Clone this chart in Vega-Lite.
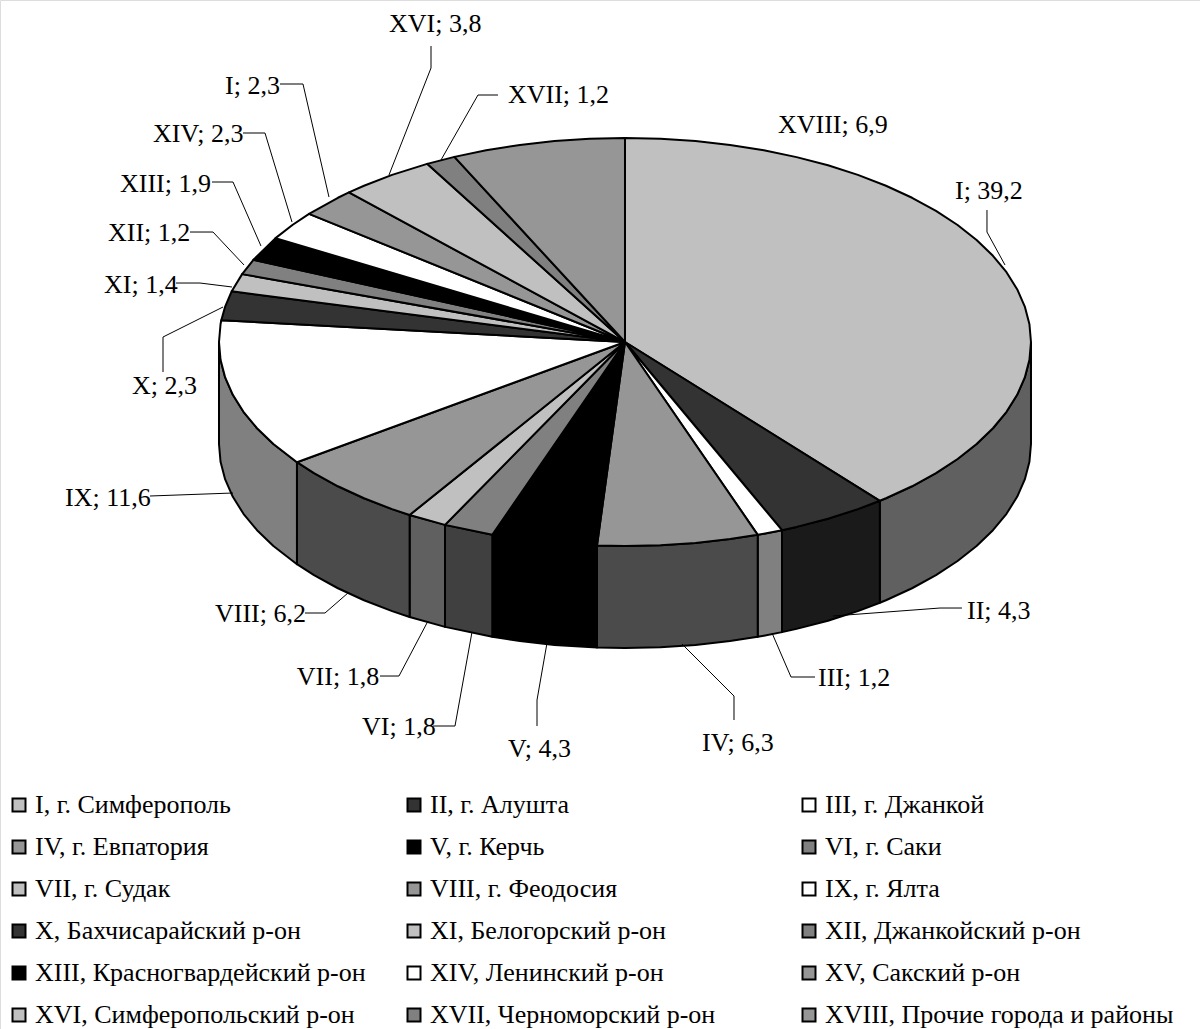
{"$schema":"https://vega.github.io/schema/vega-lite/v6.json","width":1200,"height":1029,"autosize":"none","padding":0,"background":"white","datasets":{"slices":[{"s":"I","name":"I, г. Симферополь","value":39.2},{"s":"II","name":"II, г. Алушта","value":4.3},{"s":"III","name":"III, г. Джанкой","value":1.2},{"s":"IV","name":"IV, г. Евпатория","value":6.3},{"s":"V","name":"V, г. Керчь","value":4.3},{"s":"VI","name":"VI, г. Саки","value":1.8},{"s":"VII","name":"VII, г. Судак","value":1.8},{"s":"VIII","name":"VIII, г. Феодосия","value":6.2},{"s":"IX","name":"IX, г. Ялта","value":11.6},{"s":"X","name":"X, Бахчисарайский р-он","value":2.3},{"s":"XI","name":"XI, Белогорский р-он","value":1.4},{"s":"XII","name":"XII, Джанкойский р-он","value":1.2},{"s":"XIII","name":"XIII, Красногвардейский р-он","value":1.9},{"s":"XIV","name":"XIV, Ленинский р-он","value":2.3},{"s":"XV","name":"XV, Сакский р-он","value":2.3},{"s":"XVI","name":"XVI, Симферопольский р-он","value":3.8},{"s":"XVII","name":"XVII, Черноморский р-он","value":1.2},{"s":"XVIII","name":"XVIII, Прочие города и районы","value":6.9}]},"encoding":{"x":{"field":"x","type":"quantitative","scale":{"domain":[-153.94,141.63],"nice":false,"zero":false},"axis":null},"y":{"field":"y","type":"quantitative","scale":{"domain":[-169.21,84.24],"nice":false,"zero":false},"axis":null}},"layer":[{"data":{"values":[
{"s":"I","x":100,"y":0},{"s":"I","x":99.62,"y":-4.38},{"s":"I","x":98.48,"y":-8.73},{"s":"I","x":96.59,"y":-13.01},{"s":"I","x":93.97,"y":-17.19},{"s":"I","x":90.63,"y":-21.24},{"s":"I","x":86.6,"y":-25.13},{"s":"I","x":81.92,"y":-28.82},{"s":"I","x":76.6,"y":-32.3},{"s":"I","x":70.71,"y":-35.53},{"s":"I","x":64.28,"y":-38.49},{"s":"I","x":62.77,"y":-39.11},{"s":"I","x":62.77,"y":-64.23},{"s":"I","x":64.28,"y":-63.61},{"s":"I","x":70.71,"y":-60.65},{"s":"I","x":76.6,"y":-57.42},{"s":"I","x":81.92,"y":-53.94},{"s":"I","x":86.6,"y":-50.25},{"s":"I","x":90.63,"y":-46.36},{"s":"I","x":93.97,"y":-42.31},{"s":"I","x":96.59,"y":-38.13},{"s":"I","x":98.48,"y":-33.85},{"s":"I","x":99.62,"y":-29.5},{"s":"I","x":100,"y":-25.12},{"s":"I","x":100,"y":0},
{"s":"II","x":62.77,"y":-39.11},{"s":"II","x":57.36,"y":-41.16},{"s":"II","x":50,"y":-43.52},{"s":"II","x":42.26,"y":-45.54},{"s":"II","x":38.67,"y":-46.34},{"s":"II","x":38.67,"y":-71.46},{"s":"II","x":42.26,"y":-70.66},{"s":"II","x":50,"y":-68.64},{"s":"II","x":57.36,"y":-66.28},{"s":"II","x":62.77,"y":-64.23},{"s":"II","x":62.77,"y":-39.11},
{"s":"III","x":38.67,"y":-46.34},{"s":"III","x":34.2,"y":-47.22},{"s":"III","x":32.69,"y":-47.49},{"s":"III","x":32.69,"y":-72.61},{"s":"III","x":34.2,"y":-72.34},{"s":"III","x":38.67,"y":-71.46},{"s":"III","x":38.67,"y":-46.34},
{"s":"IV","x":32.69,"y":-47.49},{"s":"IV","x":25.88,"y":-48.54},{"s":"IV","x":17.36,"y":-49.49},{"s":"IV","x":8.72,"y":-50.06},{"s":"IV","x":0,"y":-50.25},{"s":"IV","x":-6.9,"y":-50.13},{"s":"IV","x":-6.9,"y":-75.25},{"s":"IV","x":0,"y":-75.37},{"s":"IV","x":8.72,"y":-75.18},{"s":"IV","x":17.36,"y":-74.61},{"s":"IV","x":25.88,"y":-73.66},{"s":"IV","x":32.69,"y":-72.61},{"s":"IV","x":32.69,"y":-47.49},
{"s":"V","x":-6.9,"y":-50.13},{"s":"V","x":-17.36,"y":-49.49},{"s":"V","x":-25.88,"y":-48.54},{"s":"V","x":-32.69,"y":-47.49},{"s":"V","x":-32.69,"y":-72.61},{"s":"V","x":-25.88,"y":-73.66},{"s":"V","x":-17.36,"y":-74.61},{"s":"V","x":-6.9,"y":-75.25},{"s":"V","x":-6.9,"y":-50.13},
{"s":"VI","x":-32.69,"y":-47.49},{"s":"VI","x":-44.33,"y":-45.04},{"s":"VI","x":-44.33,"y":-70.16},{"s":"VI","x":-32.69,"y":-72.61},{"s":"VI","x":-32.69,"y":-47.49},
{"s":"VII","x":-44.33,"y":-45.04},{"s":"VII","x":-53.05,"y":-42.6},{"s":"VII","x":-53.05,"y":-67.72},{"s":"VII","x":-44.33,"y":-70.16},{"s":"VII","x":-44.33,"y":-45.04},
{"s":"VIII","x":-53.05,"y":-42.6},{"s":"VIII","x":-57.36,"y":-41.16},{"s":"VIII","x":-64.28,"y":-38.49},{"s":"VIII","x":-70.71,"y":-35.53},{"s":"VIII","x":-76.6,"y":-32.3},{"s":"VIII","x":-80.8,"y":-29.6},{"s":"VIII","x":-80.8,"y":-54.72},{"s":"VIII","x":-76.6,"y":-57.42},{"s":"VIII","x":-70.71,"y":-60.65},{"s":"VIII","x":-64.28,"y":-63.61},{"s":"VIII","x":-57.36,"y":-66.28},{"s":"VIII","x":-53.05,"y":-67.72},{"s":"VIII","x":-53.05,"y":-42.6},
{"s":"IX","x":-80.8,"y":-29.6},{"s":"IX","x":-86.6,"y":-25.13},{"s":"IX","x":-90.63,"y":-21.24},{"s":"IX","x":-93.97,"y":-17.19},{"s":"IX","x":-96.59,"y":-13.01},{"s":"IX","x":-98.48,"y":-8.73},{"s":"IX","x":-99.62,"y":-4.38},{"s":"IX","x":-100,"y":0},{"s":"IX","x":-100,"y":-25.12},{"s":"IX","x":-99.62,"y":-29.5},{"s":"IX","x":-98.48,"y":-33.85},{"s":"IX","x":-96.59,"y":-38.13},{"s":"IX","x":-93.97,"y":-42.31},{"s":"IX","x":-90.63,"y":-46.36},{"s":"IX","x":-86.6,"y":-50.25},{"s":"IX","x":-80.8,"y":-54.72},{"s":"IX","x":-80.8,"y":-29.6}
]},"mark":{"type":"line","stroke":"black","strokeWidth":2,"strokeJoin":"round"},"encoding":{"order":{"value":null},"fill":{"field":"s","type":"nominal","legend":null,"scale":{"domain":["I","II","III","IV","V","VI","VII","VIII","IX"],"range":["#606060","#1a1a1a","#808080","#4b4b4b","#000000","#404040","#606060","#4b4b4b","#808080"]}}}},
{"data":{"values":[
{"s":"I","x":0,"y":0},{"s":"I","x":0,"y":50.25},{"s":"I","x":8.72,"y":50.06},{"s":"I","x":17.36,"y":49.49},{"s":"I","x":25.88,"y":48.54},{"s":"I","x":34.2,"y":47.22},{"s":"I","x":42.26,"y":45.54},{"s":"I","x":50,"y":43.52},{"s":"I","x":57.36,"y":41.16},{"s":"I","x":64.28,"y":38.49},{"s":"I","x":70.71,"y":35.53},{"s":"I","x":76.6,"y":32.3},{"s":"I","x":81.92,"y":28.82},{"s":"I","x":86.6,"y":25.13},{"s":"I","x":90.63,"y":21.24},{"s":"I","x":93.97,"y":17.19},{"s":"I","x":96.59,"y":13.01},{"s":"I","x":98.48,"y":8.73},{"s":"I","x":99.62,"y":4.38},{"s":"I","x":100,"y":0},{"s":"I","x":99.62,"y":-4.38},{"s":"I","x":98.48,"y":-8.73},{"s":"I","x":96.59,"y":-13.01},{"s":"I","x":93.97,"y":-17.19},{"s":"I","x":90.63,"y":-21.24},{"s":"I","x":86.6,"y":-25.13},{"s":"I","x":81.92,"y":-28.82},{"s":"I","x":76.6,"y":-32.3},{"s":"I","x":70.71,"y":-35.53},{"s":"I","x":64.28,"y":-38.49},{"s":"I","x":62.77,"y":-39.11},{"s":"I","x":0,"y":0},
{"s":"II","x":0,"y":0},{"s":"II","x":62.77,"y":-39.11},{"s":"II","x":57.36,"y":-41.16},{"s":"II","x":50,"y":-43.52},{"s":"II","x":42.26,"y":-45.54},{"s":"II","x":38.67,"y":-46.34},{"s":"II","x":0,"y":0},
{"s":"III","x":0,"y":0},{"s":"III","x":38.67,"y":-46.34},{"s":"III","x":34.2,"y":-47.22},{"s":"III","x":32.69,"y":-47.49},{"s":"III","x":0,"y":0},
{"s":"IV","x":0,"y":0},{"s":"IV","x":32.69,"y":-47.49},{"s":"IV","x":25.88,"y":-48.54},{"s":"IV","x":17.36,"y":-49.49},{"s":"IV","x":8.72,"y":-50.06},{"s":"IV","x":0,"y":-50.25},{"s":"IV","x":-6.9,"y":-50.13},{"s":"IV","x":0,"y":0},
{"s":"V","x":0,"y":0},{"s":"V","x":-6.9,"y":-50.13},{"s":"V","x":-17.36,"y":-49.49},{"s":"V","x":-25.88,"y":-48.54},{"s":"V","x":-32.69,"y":-47.49},{"s":"V","x":0,"y":0},
{"s":"VI","x":0,"y":0},{"s":"VI","x":-32.69,"y":-47.49},{"s":"VI","x":-44.33,"y":-45.04},{"s":"VI","x":0,"y":0},
{"s":"VII","x":0,"y":0},{"s":"VII","x":-44.33,"y":-45.04},{"s":"VII","x":-53.05,"y":-42.6},{"s":"VII","x":0,"y":0},
{"s":"VIII","x":0,"y":0},{"s":"VIII","x":-53.05,"y":-42.6},{"s":"VIII","x":-57.36,"y":-41.16},{"s":"VIII","x":-64.28,"y":-38.49},{"s":"VIII","x":-70.71,"y":-35.53},{"s":"VIII","x":-76.6,"y":-32.3},{"s":"VIII","x":-80.8,"y":-29.6},{"s":"VIII","x":0,"y":0},
{"s":"IX","x":0,"y":0},{"s":"IX","x":-80.8,"y":-29.6},{"s":"IX","x":-86.6,"y":-25.13},{"s":"IX","x":-90.63,"y":-21.24},{"s":"IX","x":-93.97,"y":-17.19},{"s":"IX","x":-96.59,"y":-13.01},{"s":"IX","x":-98.48,"y":-8.73},{"s":"IX","x":-99.62,"y":-4.38},{"s":"IX","x":-100,"y":0},{"s":"IX","x":-99.62,"y":4.38},{"s":"IX","x":-99.43,"y":5.36},{"s":"IX","x":0,"y":0},
{"s":"X","x":0,"y":0},{"s":"X","x":-99.43,"y":5.36},{"s":"X","x":-98.48,"y":8.73},{"s":"X","x":-96.86,"y":12.5},{"s":"X","x":0,"y":0},
{"s":"XI","x":0,"y":0},{"s":"XI","x":-96.86,"y":12.5},{"s":"XI","x":-94.3,"y":16.72},{"s":"XI","x":0,"y":0},
{"s":"XII","x":0,"y":0},{"s":"XII","x":-94.3,"y":16.72},{"s":"XII","x":-91.52,"y":20.25},{"s":"XII","x":0,"y":0},
{"s":"XIII","x":0,"y":0},{"s":"XIII","x":-91.52,"y":20.25},{"s":"XIII","x":-86.07,"y":25.58},{"s":"XIII","x":0,"y":0},
{"s":"XIV","x":0,"y":0},{"s":"XIV","x":-86.07,"y":25.58},{"s":"XIV","x":-81.92,"y":28.82},{"s":"XIV","x":-77.82,"y":31.56},{"s":"XIV","x":0,"y":0},
{"s":"XV","x":0,"y":0},{"s":"XV","x":-77.82,"y":31.56},{"s":"XV","x":-70.71,"y":35.53},{"s":"XV","x":-67.99,"y":36.85},{"s":"XV","x":0,"y":0},
{"s":"XVI","x":0,"y":0},{"s":"XVI","x":-67.99,"y":36.85},{"s":"XVI","x":-64.28,"y":38.49},{"s":"XVI","x":-57.36,"y":41.16},{"s":"XVI","x":-48.73,"y":43.88},{"s":"XVI","x":0,"y":0},
{"s":"XVII","x":0,"y":0},{"s":"XVII","x":-48.73,"y":43.88},{"s":"XVII","x":-42.01,"y":45.6},{"s":"XVII","x":0,"y":0},
{"s":"XVIII","x":0,"y":0},{"s":"XVIII","x":-42.01,"y":45.6},{"s":"XVIII","x":-34.2,"y":47.22},{"s":"XVIII","x":-25.88,"y":48.54},{"s":"XVIII","x":-17.36,"y":49.49},{"s":"XVIII","x":-8.72,"y":50.06},{"s":"XVIII","x":0,"y":50.25},{"s":"XVIII","x":0,"y":0}
]},"transform":[{"lookup":"s","from":{"data":{"name":"slices"},"key":"s","fields":["name"]}}],"mark":{"type":"line","stroke":"black","strokeWidth":2,"strokeJoin":"round"},"encoding":{"order":{"value":null},"fill":{"field":"name","type":"nominal","scale":{"domain":["I, г. Симферополь","II, г. Алушта","III, г. Джанкой","IV, г. Евпатория","V, г. Керчь","VI, г. Саки","VII, г. Судак","VIII, г. Феодосия","IX, г. Ялта","X, Бахчисарайский р-он","XI, Белогорский р-он","XII, Джанкойский р-он","XIII, Красногвардейский р-он","XIV, Ленинский р-он","XV, Сакский р-он","XVI, Симферопольский р-он","XVII, Черноморский р-он","XVIII, Прочие города и районы"],"range":["#c0c0c0","#333333","#ffffff","#969696","#000000","#808080","#c0c0c0","#969696","#ffffff","#333333","#c0c0c0","#808080","#000000","#ffffff","#969696","#c0c0c0","#808080","#969696"]},"legend":{"title":null,"orient":"none","legendX":6,"legendY":793,"columns":3,"direction":"horizontal","gridAlign":"all","symbolType":"square","symbolSize":169,"symbolStrokeColor":"black","symbolStrokeWidth":2,"symbolOpacity":1,"labelFont":"Liberation Serif","labelFontSize":26,"labelColor":"black","labelLimit":500,"labelOffset":3,"rowPadding":16,"columnPadding":17,"padding":0,"clipHeight":24}}}},
{"data":{"values":[
{"s":"XVI","x":-47.78,"y":72.91},{"s":"XVI","x":-47.78,"y":67.49},{"s":"XVI","x":-58.13,"y":41.13},
{"s":"XVII","x":-31.28,"y":60.84},{"s":"XVII","x":-36.21,"y":60.84},{"s":"XVII","x":-45.32,"y":44.83},
{"s":"XV","x":-84.98,"y":63.55},{"s":"XV","x":-79.31,"y":63.55},{"s":"XV","x":-72.91,"y":35.71},
{"s":"XIV","x":-94.09,"y":51.48},{"s":"XIV","x":-88.67,"y":51.48},{"s":"XIV","x":-82.02,"y":29.56},
{"s":"XIII","x":-101.72,"y":39.41},{"s":"XIII","x":-96.55,"y":39.41},{"s":"XIII","x":-89.66,"y":23.65},
{"s":"XII","x":-107.14,"y":27.09},{"s":"XII","x":-101.48,"y":27.09},{"s":"XII","x":-93.84,"y":18.97},
{"s":"XI","x":-110.59,"y":14.53},{"s":"XI","x":-104.68,"y":14.53},{"s":"XI","x":-96.8,"y":13.55},
{"s":"X","x":-113.79,"y":-7.39},{"s":"X","x":-113.79,"y":1.23},{"s":"X","x":-99.01,"y":8.62},
{"s":"IX","x":-117,"y":-37.93},{"s":"IX","x":-96.55,"y":-37.19},
{"s":"VIII","x":-78.82,"y":-66.75},{"s":"VIII","x":-73.89,"y":-66.75},{"s":"VIII","x":-68.23,"y":-61.82},
{"s":"VII","x":-60.34,"y":-82.27},{"s":"VII","x":-55.67,"y":-82.27},{"s":"VII","x":-48.52,"y":-68.72},
{"s":"VI","x":-47.29,"y":-94.58},{"s":"VI","x":-41.87,"y":-94.58},{"s":"VI","x":-37.68,"y":-71.43},
{"s":"V","x":-21.67,"y":-94.58},{"s":"V","x":-21.67,"y":-88.18},{"s":"V","x":-19.21,"y":-74.14},
{"s":"IV","x":26.85,"y":-93.1},{"s":"IV","x":26.85,"y":-87.19},{"s":"IV","x":14.04,"y":-74.38},
{"s":"III","x":46.8,"y":-82.51},{"s":"III","x":40.89,"y":-82.51},{"s":"III","x":36.21,"y":-71.67},
{"s":"II","x":83,"y":-65.52},{"s":"II","x":77.59,"y":-65.52},{"s":"II","x":51.23,"y":-67.49},
{"s":"I","x":89.16,"y":32.51},{"s":"I","x":89.16,"y":27.09},{"s":"I","x":93.6,"y":18.97}
]},"mark":{"type":"line","stroke":"black","strokeWidth":1},"encoding":{"order":{"value":null},"detail":{"field":"s","type":"nominal"}}},
{"data":{"values":[
{"label":"I; 39,2","x":81.28,"y":37.19},{"label":"II; 4,3","x":84.24,"y":-66.26},{"label":"III; 1,2","x":47.54,"y":-82.76},{"label":"IV; 6,3","x":18.97,"y":-98.77},{"label":"V; 4,3","x":-28.82,"y":-100.25},{"label":"VI; 1,8","x":-64.78,"y":-94.83},{"label":"VII; 1,8","x":-80.83,"y":-82.51},{"label":"VIII; 6,2","x":-100.99,"y":-67},{"label":"IX; 11,6","x":-137.93,"y":-38.42},{"label":"X; 2,3","x":-121.41,"y":-10.84},{"label":"XI; 1,4","x":-128.33,"y":14.04},{"label":"XII; 1,2","x":-127.34,"y":26.85},{"label":"XIII; 1,9","x":-124.38,"y":38.92},{"label":"XIV; 2,3","x":-116.26,"y":51.23},{"label":"I; 2,3","x":-98.52,"y":63.05},{"label":"XVI; 3,8","x":-58.13,"y":78.33},{"label":"XVII; 1,2","x":-28.82,"y":60.84},{"label":"XVIII; 6,9","x":37.68,"y":53.45}
]},"mark":{"type":"text","font":"Liberation Serif","fontSize":26,"align":"left","baseline":"middle","color":"black"},"encoding":{"text":{"field":"label","type":"nominal"}}}
],"resolve":{"scale":{"fill":"independent"}}}
